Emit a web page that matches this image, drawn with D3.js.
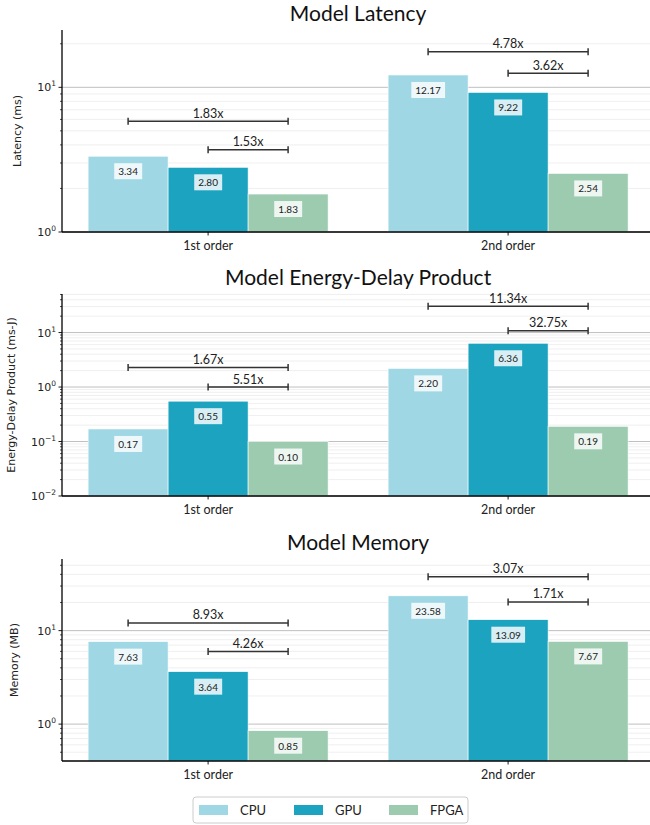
<!DOCTYPE html>
<html>
<head>
<meta charset="utf-8">
<script src="https://cdn.jsdelivr.net/npm/d3@7"></script>
<style>
  body { margin: 0; background: #fff; }
  svg { display: block; }
</style>
</head>
<body>
<div id="chart"></div>
<script>
// categories and series
const groups = ["1st order", "2nd order"];
const devices = ["CPU", "GPU", "FPGA"];
const colors = ["#9fd8e4", "#1ca3bf", "#9ccbb0"];

// latency (ms)
const latencyCpu = [3.34, 12.17];
const latencyGpu = [2.80, 9.22];
const latencyFpga = [1.83, 2.54];
const latencyRatios = [["1.83x", "1.53x"], ["4.78x", "3.62x"]];
const latencyBracketAt = [[5.82, 3.70], [17.6, 12.5]];
const latencyDomain = [1, 24.9];

// energy-delay product (ms-J)
const edpCpu = [0.17, 2.20];
const edpGpu = [0.55, 6.36];
const edpFpga = [0.10, 0.19];
const edpRatios = [["1.67x", "5.51x"], ["11.34x", "32.75x"]];
const edpBracketAt = [[2.28, 1.0], [30.3, 10.8]];
const edpDomain = [0.01, 51];

// memory (MB)
const memCpu = [7.63, 23.58];
const memGpu = [3.64, 13.09];
const memFpga = [0.85, 7.67];
const memRatios = [["8.93x", "4.26x"], ["3.07x", "1.71x"]];
const memBracketAt = [[12.1, 5.99], [37.7, 20.3]];
const memDomain = [0.403, 58.4];

const panels = [
  { title: "Model Latency", ylabel: "Latency (ms)", series: [latencyCpu, latencyGpu, latencyFpga],
    ratios: latencyRatios, at: latencyBracketAt, domain: latencyDomain, top: 30, ylabelX: 17 },
  { title: "Model Energy-Delay Product", ylabel: "Energy-Delay Product (ms-J)", series: [edpCpu, edpGpu, edpFpga],
    ratios: edpRatios, at: edpBracketAt, domain: edpDomain, top: 294, ylabelX: 11 },
  { title: "Model Memory", ylabel: "Memory (MB)", series: [memCpu, memGpu, memFpga],
    ratios: memRatios, at: memBracketAt, domain: memDomain, top: 559, ylabelX: 14 }
];

const W = 650, H = 825;
const plotH = 202;
const left = 62;
const calibri = "Lato, 'Open Sans', sans-serif";
const dejavu = "'DejaVu Sans', sans-serif";

const svg = d3.select("#chart").append("svg")
  .attr("width", W).attr("height", H);

// x: group index, with 3 bars of 0.8/3 width per group
const barW = 0.8 / 3;
const x = d3.scaleLinear().domain([-0.487, 1.513]).range([left, left + 600]);

function sup(exp) {
  return exp < 0 ? "\u2212" + Math.abs(exp) : String(exp);
}

panels.forEach(function(p) {
  const g = svg.append("g");
  const y = d3.scaleLog().domain(p.domain).range([p.top + plotH, p.top]);
  const bottom = p.top + plotH;

  // grid: minor then major
  const lo = Math.floor(Math.log10(p.domain[0]));
  const hi = Math.ceil(Math.log10(p.domain[1]));
  const minor = [], major = [];
  for (let e = lo; e <= hi; e++) {
    for (let m = 1; m < 10; m++) {
      const v = m * Math.pow(10, e);
      if (v < p.domain[0] * 0.999 || v > p.domain[1] * 1.001) continue;
      if (m === 1) major.push(v); else minor.push(v);
    }
  }

  g.selectAll(".minor").data(minor).enter().append("line")
    .attr("x1", left).attr("x2", W)
    .attr("y1", d => y(d)).attr("y2", d => y(d))
    .attr("stroke", "#ebebeb").attr("stroke-width", 0.8);
  g.selectAll(".major").data(major).enter().append("line")
    .attr("x1", left).attr("x2", W)
    .attr("y1", d => y(d)).attr("y2", d => y(d))
    .attr("stroke", "#b8b8b8").attr("stroke-width", 0.9);

  // bars
  p.series.forEach(function(vals, i) {
    g.selectAll(".bar" + i).data(vals).enter().append("rect")
      .attr("x", (d, j) => x(j + (i - 1) * barW - barW / 2))
      .attr("width", x(barW) - x(0))
      .attr("y", d => y(d))
      .attr("height", d => bottom - y(d))
      .attr("fill", colors[i])
      .attr("stroke", "#ffffff").attr("stroke-width", 0.6);
  });

  // value labels
  p.series.forEach(function(vals, i) {
    vals.forEach(function(v, j) {
      const cx = x(j + (i - 1) * barW);
      const cy = y(v) + 15;
      const t = g.append("text")
        .attr("x", cx).attr("y", cy)
        .attr("text-anchor", "middle").attr("dominant-baseline", "central")
        .attr("font-family", calibri).attr("font-size", 10)
        .attr("fill", "#222")
        .text(v.toFixed(2));
      const bb = t.node().getBBox();
      g.insert("rect", function() { return t.node(); })
        .attr("x", bb.x - 4).attr("y", cy - 8)
        .attr("width", bb.width + 8).attr("height", 16)
        .attr("fill", "#ffffff").attr("fill-opacity", 0.82);
    });
  });

  // brackets: CPU-FPGA and GPU-FPGA
  p.ratios.forEach(function(pair, j) {
    pair.forEach(function(label, k) {
      const x1 = x(j + (k === 0 ? -1 : 0) * barW);
      const x2 = x(j + barW);
      const yy = y(p.at[j][k]);
      g.append("line").attr("x1", x1).attr("x2", x2).attr("y1", yy).attr("y2", yy)
        .attr("stroke", "#333").attr("stroke-width", 1.5);
      [x1, x2].forEach(function(xe) {
        g.append("line").attr("x1", xe).attr("x2", xe).attr("y1", yy - 3.5).attr("y2", yy + 3.5)
          .attr("stroke", "#333").attr("stroke-width", 1.5);
      });
      g.append("text")
        .attr("x", (x1 + x2) / 2).attr("y", yy - 3.5)
        .attr("text-anchor", "middle")
        .attr("font-family", calibri).attr("font-size", 12.5)
        .attr("fill", "#222")
        .text(label);
    });
  });

  // y axis ticks
  g.selectAll(".ytick").data(major).enter().append("line")
    .attr("x1", left - 3.5).attr("x2", left)
    .attr("y1", d => y(d)).attr("y2", d => y(d))
    .attr("stroke", "#000").attr("stroke-width", 0.9);
  g.selectAll(".ymtick").data(minor).enter().append("line")
    .attr("x1", left - 2).attr("x2", left)
    .attr("y1", d => y(d)).attr("y2", d => y(d))
    .attr("stroke", "#000").attr("stroke-width", 0.7);

  major.forEach(function(v) {
    const e = Math.round(Math.log10(v));
    const t = g.append("text")
      .attr("x", left - 6).attr("y", y(v) + 4)
      .attr("text-anchor", "end")
      .attr("font-family", dejavu).attr("font-size", 11).attr("fill", "#222");
    t.append("tspan").text("10");
    t.append("tspan").attr("dy", -5).attr("font-size", 7.5).text(sup(e));
  });

  // spines
  g.append("line").attr("x1", left).attr("x2", left).attr("y1", p.top).attr("y2", bottom)
    .attr("stroke", "#000").attr("stroke-width", 1.3);
  g.append("line").attr("x1", left).attr("x2", W).attr("y1", bottom).attr("y2", bottom)
    .attr("stroke", "#000").attr("stroke-width", 1.3);

  // x ticks
  groups.forEach(function(name, j) {
    g.append("line").attr("x1", x(j)).attr("x2", x(j)).attr("y1", bottom).attr("y2", bottom + 3.5)
      .attr("stroke", "#000").attr("stroke-width", 0.9);
    g.append("text").attr("x", x(j)).attr("y", bottom + 18)
      .attr("text-anchor", "middle")
      .attr("font-family", calibri).attr("font-size", 12.5).attr("fill", "#222")
      .text(name);
  });

  // title
  g.append("text").attr("x", x(0.5)).attr("y", p.top - 9)
    .attr("text-anchor", "middle")
    .attr("font-family", calibri).attr("font-size", 21).attr("fill", "#111")
    .text(p.title);

  // y label
  g.append("text")
    .attr("transform", `translate(${p.ylabelX},${p.top + plotH / 2}) rotate(-90)`)
    .attr("text-anchor", "middle").attr("dominant-baseline", "central")
    .attr("font-family", dejavu).attr("font-size", 11).attr("fill", "#222")
    .text(p.ylabel);
});

// legend
const legend = svg.append("g").attr("transform", "translate(193,797)");
legend.append("rect").attr("width", 275).attr("height", 26).attr("rx", 3)
  .attr("fill", "#fff").attr("stroke", "#cccccc").attr("stroke-width", 1);
devices.forEach(function(name, i) {
  const item = legend.append("g").attr("transform", `translate(${6 + i * 95},0)`);
  item.append("rect").attr("x", 0).attr("y", 8).attr("width", 29).attr("height", 10)
    .attr("fill", colors[i]);
  item.append("text").attr("x", 41).attr("y", 13)
    .attr("dominant-baseline", "central")
    .attr("font-family", calibri).attr("font-size", 13).attr("fill", "#222")
    .text(name);
});
</script>
</body>
</html>
